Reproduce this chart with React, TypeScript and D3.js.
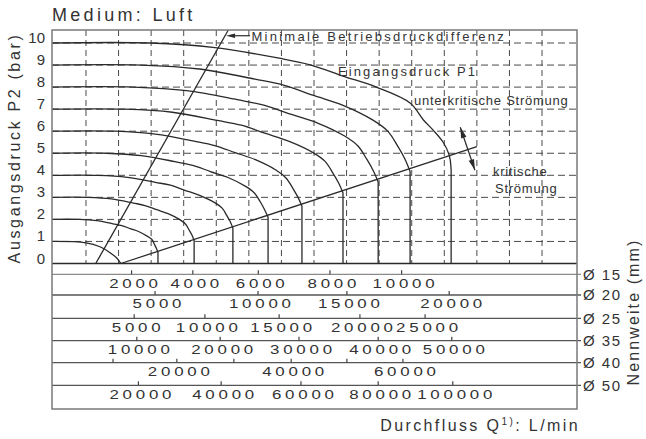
import React from "react";
import * as d3 from "d3";

// ---------- DATA ----------
// outlet pressure ticks (bar)
const pressureTicks = [0, 1, 2, 3, 4, 5, 6, 7, 8, 9, 10];
// vertical grid columns (chart flow units)
const gridColumns = [1, 2, 3, 4, 5, 6, 7, 8, 9, 10, 11, 12, 13, 14, 15];

// flow curves, one per inlet pressure P1: [flow unit, P2 bar]
const curveP1_1: [number, number][] = [[-0.04, 1], [1.0, 0.94], [1.43, 0.76], [1.74, 0.49], [1.95, 0.24], [2.07, 0]];
const curveP1_2: [number, number][] = [[-0.04, 2], [0.8, 2], [1.33, 1.94], [1.83, 1.8], [2.1, 1.72], [2.36, 1.58], [2.63, 1.44], [2.89, 1.23], [3.03, 1.08], [3.1, 0.87], [3.16, 0.69], [3.21, 0.5], [3.21, 0]];
const curveP1_3: [number, number][] = [[-0.04, 3], [1.07, 3], [1.78, 2.93], [2.46, 2.74], [2.81, 2.63], [3.17, 2.44], [3.52, 2.26], [3.88, 1.99], [4.06, 1.78], [4.17, 1.51], [4.26, 1.27], [4.32, 1.04], [4.32, 0]];
const curveP1_4: [number, number][] = [[-0.04, 4], [1.36, 4], [2.27, 3.91], [3.13, 3.68], [3.59, 3.55], [4.04, 3.32], [4.49, 3.09], [4.95, 2.76], [5.18, 2.51], [5.32, 2.18], [5.43, 1.89], [5.51, 1.6], [5.51, 0]];
const curveP1_5: [number, number][] = [[-0.04, 5], [1.63, 5], [2.7, 4.89], [3.73, 4.62], [4.28, 4.45], [4.82, 4.17], [5.36, 3.9], [5.9, 3.5], [6.17, 3.2], [6.35, 2.8], [6.48, 2.45], [6.59, 2.1], [6.59, 0]];
const curveP1_6: [number, number][] = [[-0.04, 6], [1.88, 6], [3.13, 5.87], [4.32, 5.55], [4.95, 5.35], [5.58, 5.03], [6.2, 4.71], [6.83, 4.24], [7.14, 3.88], [7.35, 3.41], [7.51, 3.0], [7.63, 2.6], [7.63, 0]];
const curveP1_7: [number, number][] = [[-0.04, 7], [2.19, 7], [3.65, 6.86], [5.03, 6.49], [5.77, 6.27], [6.49, 5.91], [7.22, 5.55], [7.97, 5.03], [8.34, 4.63], [8.58, 4.1], [8.76, 3.64], [8.89, 3.2], [8.89, 0]];
const curveP1_8: [number, number][] = [[-0.04, 8], [2.46, 8], [4.09, 7.84], [5.64, 7.43], [6.46, 7.18], [7.28, 6.77], [8.11, 6.37], [8.94, 5.78], [9.35, 5.33], [9.62, 4.73], [9.82, 4.21], [9.97, 3.7], [9.97, 0]];
const curveP1_9: [number, number][] = [[-0.04, 9], [2.69, 9], [4.48, 8.82], [6.19, 8.36], [7.09, 8.08], [7.99, 7.62], [8.91, 7.16], [9.81, 6.5], [10.27, 5.99], [10.57, 5.32], [10.79, 4.74], [10.95, 4.17], [10.95, 0]];
const curveP1_10: [number, number][] = [[-0.04, 10], [2.97, 10], [4.96, 9.79], [6.93, 9.31], [7.91, 9.0], [8.89, 8.5], [9.93, 7.99], [10.95, 7.28], [11.36, 6.51], [11.65, 6.06], [11.96, 5.51], [12.15, 4.92], [12.21, 4.24], [12.21, 0]];

// boundary lines
const criticalLine: [number, number][] = [[2.07, 0], [13.0, 5.3]];
const minDiffLine: [number, number][] = [[1.3, 0], [5.37, 10.59]];
const minDiffArrowP = 10.33;
const flowArrow: [number, number][] = [[12.49, 6.18], [12.94, 4.23]];

// flow scales per nominal size (L/min) and their position in chart flow units
const nominalSizes = ["Ø 15", "Ø 20", "Ø 25", "Ø 35", "Ø 40", "Ø 50"];
const flowTicksD15 = [2000, 4000, 6000, 8000, 10000];
const flowPosD15 = [2.4, 4.28, 6.29, 8.49, 10.69];
const flowTicksD20 = [5000, 10000, 15000, 20000];
const flowPosD20 = [3.12, 6.28, 9.01, 12.15];
const flowTicksD25 = [5000, 10000, 15000, 20000, 25000];
const flowPosD25 = [2.48, 4.65, 6.93, 9.41, 11.41];
const flowTicksD35 = [10000, 20000, 30000, 40000, 50000];
const flowPosD35 = [2.56, 5.12, 7.54, 9.97, 12.23];
const flowTicksD40 = [10000, 20000, 30000, 40000, 50000, 60000];
const flowPosD40 = [1.83, 3.79, 5.54, 7.3, 9.01, 10.73];
const flowLabelsD40 = [20000, 40000, 60000];
const flowTicksD50 = [20000, 40000, 60000, 80000, 100000];
const flowPosD50 = [2.61, 5.15, 7.6, 9.97, 12.26];

const FONT = "'Liberation Sans', Arial, Helvetica, sans-serif";

export default function App() {
  const W = 646, H = 439;
  const left = 52, right = 577, top = 30, bottom = 409;
  const x = d3.scaleLinear().domain([0, 16]).range([53.4, 574.6]);
  const y = d3.scaleLinear().domain([0, 10]).range([263.5, 43]);
  const y0 = y(0);
  const bandLines = [274.3, 295, 318.3, 340.7, 362.7, 385.3];

  const curves = [curveP1_1, curveP1_2, curveP1_3, curveP1_4, curveP1_5, curveP1_6, curveP1_7, curveP1_8, curveP1_9, curveP1_10];
  const line = d3.line<[number, number]>().x(d => x(d[0])).y(d => y(d[1])).curve(d3.curveCatmullRom.alpha(0.5));

  const rows = [
    { ticks: flowTicksD15, pos: flowPosD15, labels: flowTicksD15 },
    { ticks: flowTicksD20, pos: flowPosD20, labels: flowTicksD20 },
    { ticks: flowTicksD25, pos: flowPosD25, labels: flowTicksD25 },
    { ticks: flowTicksD35, pos: flowPosD35, labels: flowTicksD35 },
    { ticks: flowTicksD40, pos: flowPosD40, labels: flowLabelsD40 },
    { ticks: flowTicksD50, pos: flowPosD50, labels: flowTicksD50 },
  ];

  const ink = "#2a2a2a";
  const txt = "#333";
  const grid = "#4a4a4a";
  const digitSX = 1.3;
  const digitLS = 2.9;

  const arrowHead = (tip: [number, number], from: [number, number], len: number, half: number) => {
    const dx = tip[0] - from[0], dy = tip[1] - from[1];
    const L = Math.hypot(dx, dy);
    const ux = dx / L, uy = dy / L;
    const bx = tip[0] - ux * len, by = tip[1] - uy * len;
    return `M${tip[0]},${tip[1]}L${bx - uy * half},${by + ux * half}L${bx + uy * half},${by - ux * half}Z`;
  };

  // min diff arrow
  const tMin = minDiffArrowP / minDiffLine[1][1];
  const minTipX = x(minDiffLine[0][0] + (minDiffLine[1][0] - minDiffLine[0][0]) * tMin);
  const minTipY = y(minDiffArrowP);
  const fa0: [number, number] = [x(flowArrow[0][0]), y(flowArrow[0][1])];
  const fa1: [number, number] = [x(flowArrow[1][0]), y(flowArrow[1][1])];

  return (
    <div style={{ position: "fixed", left: 0, top: 0 }}>
      <svg width={W} height={H} style={{ display: "block", background: "#fff" }} fontFamily={FONT}>
        {/* title */}
        <text x={52} y={20.5} fontSize={18} letterSpacing={3.3} fill={txt}>Medium: Luft</text>

        {/* grid */}
        {pressureTicks.filter(p => p > 0).map(p => (
          <line key={"h" + p} x1={left} x2={right} y1={y(p)} y2={y(p)} stroke={grid} strokeWidth={1} strokeDasharray="7,4" />
        ))}
        {gridColumns.map(c => (
          <line key={"v" + c} x1={x(c)} x2={x(c)} y1={top} y2={y0} stroke={grid} strokeWidth={1} strokeDasharray="6,4" />
        ))}

        {/* curves */}
        {curves.map((c, i) => {
          const last = c[c.length - 1];
          const prev = c[c.length - 2];
          const isVert = last[0] === prev[0];
          const pts = isVert ? c.slice(0, -1) : c;
          const d = line(pts) + (isVert ? `L${x(last[0])},${y(last[1])}` : "");
          return <path key={"c" + i} d={d} fill="none" stroke={ink} strokeWidth={1.3} />;
        })}

        {/* critical and min lines */}
        <line x1={x(criticalLine[0][0])} y1={y(criticalLine[0][1])} x2={x(criticalLine[1][0])} y2={y(criticalLine[1][1])} stroke={ink} strokeWidth={1.3} />
        <line x1={x(minDiffLine[0][0])} y1={y(minDiffLine[0][1])} x2={x(minDiffLine[1][0])} y2={y(minDiffLine[1][1])} stroke={ink} strokeWidth={1.3} />

        {/* min arrow */}
        <line x1={minTipX + 6} y1={minTipY} x2={250} y2={minTipY} stroke={ink} strokeWidth={1.2} />
        <path d={arrowHead([minTipX + 1, minTipY], [250, minTipY], 9, 2.3)} fill={ink} />
        <text x={251.5} y={41} fontSize={13} letterSpacing={2.25} fill={txt}>Minimale Betriebsdruckdifferenz</text>

        {/* double arrow */}
        <line x1={fa0[0]} y1={fa0[1]} x2={fa1[0]} y2={fa1[1]} stroke={ink} strokeWidth={1.2} />
        <path d={arrowHead(fa0, fa1, 11, 2.8)} fill={ink} />
        <path d={arrowHead(fa1, fa0, 11, 2.8)} fill={ink} />

        {/* annotations */}
        <text x={338} y={75.5} fontSize={13} letterSpacing={2.1} fill={txt}>Eingangsdruck P1</text>
        <text x={414} y={104.5} fontSize={13} letterSpacing={0.75} fill={txt}>unterkritische Strömung</text>
        <text x={493} y={176} fontSize={13} letterSpacing={0.75} fill={txt}>kritische</text>
        <text x={495} y={192.5} fontSize={13} letterSpacing={0.75} fill={txt}>Strömung</text>

        {/* y ticks */}
        {pressureTicks.map(p => (
          <text key={"yl" + p} x={45} y={y(p)} fontSize={15} textAnchor="end" fill={txt}>{p}</text>
        ))}
        <text transform={`translate(14,148) rotate(-90)`} fontSize={16} letterSpacing={2.65} textAnchor="middle" dy="0.36em" fill={txt}>Ausgangsdruck P2 (bar)</text>

        {/* plot base line */}
        <line x1={left} x2={right} y1={y0} y2={y0} stroke={ink} strokeWidth={1.4} />

        {/* nominal size rows */}
        {rows.map((r, i) => {
          const calib = d3.scaleLinear().domain(r.ticks).range(r.pos);
          const ly = bandLines[i];
          return (
            <g key={"row" + i}>
              <line x1={left} x2={right + 4} y1={ly} y2={ly} stroke={i === 0 ? "#8a8a8a" : "#555"} strokeWidth={1.3} />
              {r.ticks.map(t => (
                <line key={"t" + t} x1={x(calib(t))} x2={x(calib(t))} y1={ly - 4} y2={ly} stroke="#444" strokeWidth={1.2} />
              ))}
              {r.labels.map(t => (
                <text key={"l" + t}
                  transform={`translate(${x(calib(t)) + 2 + (digitLS * digitSX) / 2},${ly + 13.3}) scale(${digitSX},1)`}
                  fontSize={13} letterSpacing={digitLS} textAnchor="middle" fill={txt}>{t}</text>
              ))}
              <text x={583} y={ly + 5.2} fontSize={15} letterSpacing={1.5} fill={txt}>{nominalSizes[i]}</text>
            </g>
          );
        })}

        {/* frame */}
        <rect x={left} y={top} width={right - left} height={bottom - top} fill="none" stroke="#7a7a7a" strokeWidth={1.5} />

        <text transform={`translate(633,312) rotate(-90)`} fontSize={16} letterSpacing={2.1} textAnchor="middle" dy="0.36em" fill={txt}>Nennweite (mm)</text>
        <text x={580} y={431} fontSize={16} letterSpacing={2.4} textAnchor="end" fill={txt}>
          Durchfluss Q<tspan fontSize={10} dy={-6}>1)</tspan><tspan dy={6}>: L/min</tspan>
        </text>
      </svg>
    </div>
  );
}
